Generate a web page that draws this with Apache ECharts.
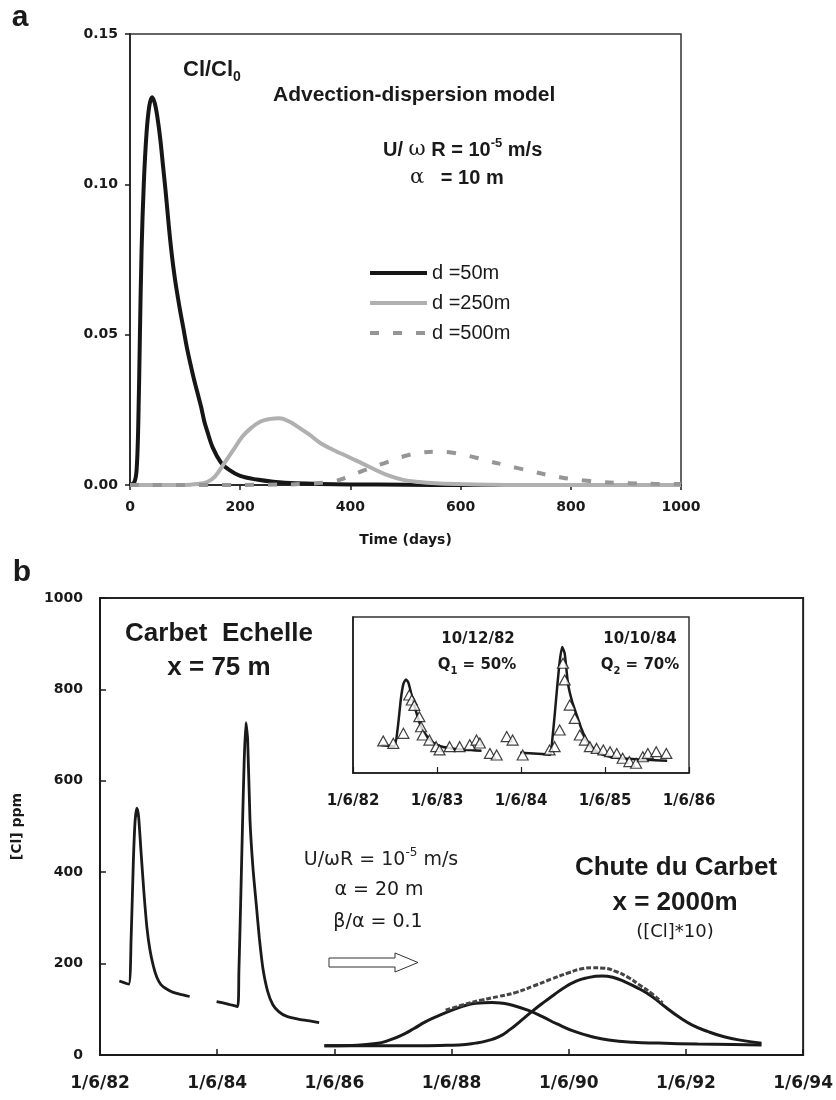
<!DOCTYPE html>
<html>
<head>
<meta charset="utf-8">
<script src="https://cdn.jsdelivr.net/npm/echarts@6/dist/echarts.min.js"></script>
<style>
  html, body { margin: 0; padding: 0; background: #fff; }
  #main { width: 836px; height: 1100px; }
</style>
</head>
<body>
<div id="main"></div>
<script>
// ---- panel a : advection-dispersion model, Cl/Cl0 vs time (days)
var aTicks = ['0', '200', '400', '600', '800', '1000']
var aNames = ['d =50m', 'd =250m', 'd =500m']
var d50 = [[0,0],[8,0.001],[12,0.005],[15,0.02],[18,0.05],[21,0.078],[25,0.1],[30,0.117],[35,0.126],[40,0.129],
  [45,0.127],[50,0.122],[55,0.115],[60,0.106],[65,0.097],[70,0.087],[75,0.078],[82,0.068],[90,0.059],[97,0.052],
  [104,0.045],[115,0.036],[122,0.031],[129,0.026],[135,0.021],[140,0.018],[150,0.0125],[165,0.0075],[180,0.005],
  [200,0.003],[230,0.0018],[260,0.0011],[300,0.0006],[400,0.0002],[500,0.0001],[600,0],[1000,0]]
var d250 = [[0,0],[100,0],[120,0.0003],[140,0.001],[154,0.0028],[171,0.0072],[187,0.0115],[204,0.0161],[220,0.019],
  [237,0.0211],[255,0.022],[271,0.0222],[288,0.0212],[304,0.0194],[325,0.0168],[346,0.0139],[371,0.0115],[396,0.0094],
  [421,0.0072],[446,0.005],[471,0.003],[496,0.0017],[525,0.001],[554,0.0006],[600,0.0003],[650,0.0001],[700,0],[1000,0]]
var d500 = [[0,0],[150,0],[250,0.0001],[320,0.0004],[371,0.0013],[400,0.003],[421,0.0046],[440,0.0059],[462,0.0073],
  [485,0.0088],[504,0.0099],[530,0.0108],[554,0.0111],[580,0.0109],[604,0.0101],[630,0.009],[654,0.0078],[680,0.0067],
  [704,0.0056],[730,0.0045],[754,0.0035],[780,0.0026],[804,0.0019],[830,0.0014],[854,0.001],[880,0.0007],
  [904,0.0006],[950,0.0004],[1000,0.0003]]

// ---- panel b : [Cl] ppm, x = year (82 means 1/6/82)
var bTicks = ['1/6/82', '1/6/84', '1/6/86', '1/6/88', '1/6/90', '1/6/92', '1/6/94']
var insetTicks = ['1/6/82', '1/6/83', '1/6/84', '1/6/85', '1/6/86']
// Carbet Echelle, x = 75 m (model)
var echelle82 = [[82.33,162],[82.49,155],[82.53,250],[82.57,427],[82.6,514],[82.63,540],[82.66,520],[82.7,445],
  [82.75,355],[82.8,280],[82.85,232],[82.91,195],[82.97,170],[83.04,154],[83.13,145],[83.25,137],[83.4,132],[83.53,128]]
var echelle84 = [[83.99,117],[84.2,111],[84.35,106],[84.37,180],[84.4,330],[84.43,492],[84.46,640],[84.49,727],
  [84.52,690],[84.56,514],[84.61,410],[84.67,325],[84.72,255],[84.78,190],[84.86,140],[84.95,110],[85.05,95],
  [85.18,85],[85.4,78],[85.6,74],[85.74,71]]
// Chute du Carbet, x = 2000 m ([Cl]*10)
var chute1 = [[85.83,20],[86.3,21],[86.71,25],[86.95,33],[87.16,44],[87.36,58],[87.56,73],[87.8,87],[88.01,98],
  [88.2,107],[88.41,113],[88.69,115],[88.88,113],[89.04,109],[89.3,98],[89.55,84],[89.8,68],[90.11,51],[90.4,40],
  [90.68,33],[91.1,28],[91.53,26],[92.2,24],[92.8,23],[93.29,22]]
var chute2 = [[85.83,20],[86.5,20],[87.2,20],[87.8,21],[88.13,22],[88.41,26],[88.6,31],[88.81,40],[89.0,56],[89.2,77],
  [89.38,96],[89.55,113],[89.75,132],[89.94,149],[90.1,160],[90.28,168],[90.57,173],[90.75,170],[90.96,160],
  [91.2,145],[91.42,128],[91.65,105],[91.87,84],[92.1,66],[92.38,51],[92.65,40],[92.95,32],[93.29,26]]
var chuteSum = [[87.9,98],[88.2,110],[88.5,120],[88.8,128],[89.1,137],[89.4,151],[89.7,166],[90.0,180],[90.2,188],
  [90.4,191],[90.6,190],[90.8,183],[91.0,171],[91.2,154],[91.42,134],[91.6,114]]
// inset: measured values (triangles)
var observed = [[82.36,185],[82.48,171],[82.6,229],[82.67,450],[82.7,421],[82.73,390],[82.79,325],[82.81,267],
  [82.83,219],[82.91,190],[82.99,152],[83.03,133],[83.15,152],[83.27,152],[83.39,163],[83.47,190],[83.51,173],
  [83.63,113],[83.71,104],[83.83,210],[83.9,190],[84.02,104],[84.34,133],[84.4,152],[84.46,248],[84.5,633],
  [84.52,537],[84.58,392],[84.64,315],[84.7,219],[84.76,190],[84.82,152],[84.9,142],[84.98,133],[85.06,123],
  [85.14,113],[85.21,85],[85.29,66],[85.37,56],[85.45,94],[85.51,113],[85.61,123],[85.73,113]]

var INK = '#1a1a1a'
var TICKFONT = 'DejaVu Sans'
var SANS = 'Liberation Sans'

function txt(x, y, text, size, weight, family, align, rich) {
  return {
    type: 'text', x: x, y: y, z: 10,
    style: {
      text: text, fontSize: size, fontWeight: weight, fontFamily: family,
      fill: INK, align: align || 'left', verticalAlign: 'middle', rich: rich
    }
  }
}

var chart = echarts.init(document.getElementById('main'), null, { renderer: 'canvas' })

var tickLabel = { fontFamily: TICKFONT, fontWeight: 'bold', fontSize: 14, color: INK }

var option = {
  animation: false,
  backgroundColor: '#fff',
  grid: [
    { left: 130, top: 34, width: 551, height: 451, show: true, borderColor: '#333', borderWidth: 1.5 },
    { left: 100, top: 598, width: 704, height: 457, show: true, borderColor: '#222', borderWidth: 2 },
    { left: 353, top: 617, width: 336, height: 156, show: true, borderColor: '#333', borderWidth: 1.5, backgroundColor: '#fff' }
  ],
  legend: {
    data: aNames,
    orient: 'vertical',
    left: 363, top: 258,
    itemWidth: 57, itemHeight: 14, itemGap: 10,
    itemStyle: { opacity: 0 },
    lineStyle: { width: 4 },
    textStyle: { fontFamily: SANS, fontSize: 20, color: INK, lineHeight: 20 }
  },
  xAxis: [
    {
      type: 'value', gridIndex: 0, min: 0, max: 1000, interval: 200,
      axisLine: { lineStyle: { color: INK, width: 1.5 } },
      axisTick: { inside: false, length: 5, lineStyle: { color: INK, width: 1.5 } },
      axisLabel: Object.assign({ margin: 15, formatter: function (v) { return aTicks[v / 200] } }, tickLabel),
      splitLine: { show: false },
      name: 'Time (days)', nameLocation: 'middle', nameGap: 48,
      nameTextStyle: { fontFamily: TICKFONT, fontWeight: 'bold', fontSize: 14, color: INK }
    },
    {
      type: 'value', gridIndex: 1, min: 82, max: 94, interval: 2,
      axisLine: { lineStyle: { color: INK, width: 2 } },
      axisTick: { inside: true, length: 6, lineStyle: { color: INK, width: 1.5 } },
      axisLabel: Object.assign({}, tickLabel, { fontSize: 17, margin: 20, formatter: function (v) { return bTicks[(v - 82) / 2] } }),
      splitLine: { show: false }
    },
    {
      type: 'value', gridIndex: 2, min: 82, max: 86, interval: 1,
      axisLine: { lineStyle: { color: INK, width: 1.5 } },
      axisTick: { inside: true, length: 6, lineStyle: { color: INK, width: 1.2 } },
      axisLabel: Object.assign({}, tickLabel, { fontSize: 15, margin: 21, formatter: function (v) { return insetTicks[v - 82] } }),
      splitLine: { show: false }
    }
  ],
  yAxis: [
    {
      type: 'value', gridIndex: 0, min: 0, max: 0.15, interval: 0.05,
      axisLine: { show: true, lineStyle: { color: INK, width: 1.5 } },
      axisTick: { show: true, inside: false, length: 5, lineStyle: { color: INK, width: 1.5 } },
      axisLabel: Object.assign({ margin: 12, formatter: function (v) { return v.toFixed(2) } }, tickLabel),
      splitLine: { show: false }
    },
    {
      type: 'value', gridIndex: 1, min: 0, max: 1000, interval: 200,
      axisLine: { show: true, lineStyle: { color: INK, width: 2 } },
      axisTick: { show: true, inside: true, length: 6, lineStyle: { color: INK, width: 1.5 } },
      axisLabel: Object.assign({ margin: 17, formatter: function (v) { return String(v) } }, tickLabel),
      splitLine: { show: false },
      name: '[Cl] ppm', nameLocation: 'middle', nameGap: 76, nameRotate: 90,
      nameTextStyle: { fontFamily: TICKFONT, fontWeight: 'bold', fontSize: 14, color: INK }
    },
    {
      type: 'value', gridIndex: 2, min: 0, max: 900,
      axisLine: { show: true, lineStyle: { color: INK, width: 1.5 } },
      axisTick: { show: false }, axisLabel: { show: false },
      splitLine: { show: false }
    }
  ],
  series: [
    { name: aNames[0], type: 'line', xAxisIndex: 0, yAxisIndex: 0, data: d50, symbol: 'none',
      smooth: 0.35, lineStyle: { color: '#161616', width: 4 }, itemStyle: { color: '#161616' } },
    { name: aNames[1], type: 'line', xAxisIndex: 0, yAxisIndex: 0, data: d250, symbol: 'none',
      smooth: 0.4, lineStyle: { color: '#b0b0b0', width: 4 }, itemStyle: { color: '#b0b0b0' } },
    { name: aNames[2], type: 'line', xAxisIndex: 0, yAxisIndex: 0, data: d500, symbol: 'none',
      smooth: 0.4, lineStyle: { color: '#969696', width: 4, type: [9, 14] }, itemStyle: { color: '#969696' } },

    { name: 'echelle82', type: 'line', xAxisIndex: 1, yAxisIndex: 1, data: echelle82, symbol: 'none',
      smooth: 0.2, lineStyle: { color: INK, width: 2.8 } },
    { name: 'echelle84', type: 'line', xAxisIndex: 1, yAxisIndex: 1, data: echelle84, symbol: 'none',
      smooth: 0.2, lineStyle: { color: INK, width: 2.8 } },
    { name: 'chute1', type: 'line', xAxisIndex: 1, yAxisIndex: 1, data: chute1, symbol: 'none',
      smooth: 0.5, lineStyle: { color: INK, width: 3 } },
    { name: 'chute2', type: 'line', xAxisIndex: 1, yAxisIndex: 1, data: chute2, symbol: 'none',
      smooth: 0.5, lineStyle: { color: INK, width: 3 } },
    { name: 'chuteSum', type: 'line', xAxisIndex: 1, yAxisIndex: 1, data: chuteSum, symbol: 'none',
      smooth: 0.5, lineStyle: { color: '#444', width: 3, type: [5, 2] } },

    { name: 'inset82', type: 'line', xAxisIndex: 2, yAxisIndex: 2, data: echelle82, symbol: 'none',
      smooth: 0.2, lineStyle: { color: INK, width: 2.5 } },
    { name: 'inset84', type: 'line', xAxisIndex: 2, yAxisIndex: 2, data: echelle84, symbol: 'none',
      smooth: 0.2, lineStyle: { color: INK, width: 2.5 } },
    { name: 'observed', type: 'scatter', xAxisIndex: 2, yAxisIndex: 2, data: observed, z: 4,
      symbol: 'triangle', symbolSize: [11, 10],
      itemStyle: { color: '#fff', borderColor: '#111', borderWidth: 1.2 } }
  ],
  graphic: [
    txt(20, 18, 'a', 30, 'bold', SANS, 'center'),
    txt(183, 70, '{m|Cl/Cl}{s|0}', 22, 'bold', SANS, 'left', {
      m: { fontSize: 22, fontWeight: 'bold', fontFamily: SANS, fill: INK, lineHeight: 28, verticalAlign: 'middle' },
      s: { fontSize: 14, fontWeight: 'bold', fontFamily: SANS, fill: INK, lineHeight: 28, verticalAlign: 'bottom' }
    }),
    txt(273, 95, 'Advection-dispersion model', 21, 'bold', SANS),
    txt(383, 150, '{m|U/ }{w|ω}{m| R = 10}{p|-5}{m| m/s}', 20, 'bold', SANS, 'left', {
      m: { fontSize: 20, fontWeight: 'bold', fontFamily: SANS, fill: INK, lineHeight: 26, verticalAlign: 'middle' },
      w: { fontSize: 21, fontWeight: 'normal', fontFamily: 'DejaVu Serif', fill: INK, lineHeight: 26, verticalAlign: 'middle' },
      p: { fontSize: 13, fontWeight: 'bold', fontFamily: SANS, fill: INK, lineHeight: 26, verticalAlign: 'top' }
    }),
    txt(410, 178, '{w|α}{m|   = 10 m}', 20, 'bold', SANS, 'left', {
      m: { fontSize: 20, fontWeight: 'bold', fontFamily: SANS, fill: INK, verticalAlign: 'middle' },
      w: { fontSize: 21, fontWeight: 'normal', fontFamily: 'DejaVu Serif', fill: INK, verticalAlign: 'middle' }
    }),

    txt(22, 573, 'b', 30, 'bold', SANS, 'center'),
    txt(219, 634, 'Carbet  Echelle', 26, 'bold', SANS, 'center'),
    txt(219, 668, 'x = 75 m', 26, 'bold', SANS, 'center'),
    txt(478, 639, '10/12/82', 15, 'bold', TICKFONT, 'center'),
    txt(477, 665, '{m|Q}{s|1}{m| = 50%}', 15, 'bold', TICKFONT, 'center', {
      m: { fontSize: 15, fontWeight: 'bold', fontFamily: TICKFONT, fill: INK, lineHeight: 22, verticalAlign: 'middle' },
      s: { fontSize: 10, fontWeight: 'bold', fontFamily: TICKFONT, fill: INK, lineHeight: 22, verticalAlign: 'bottom' }
    }),
    txt(640, 639, '10/10/84', 15, 'bold', TICKFONT, 'center'),
    txt(640, 665, '{m|Q}{s|2}{m| = 70%}', 15, 'bold', TICKFONT, 'center', {
      m: { fontSize: 15, fontWeight: 'bold', fontFamily: TICKFONT, fill: INK, lineHeight: 22, verticalAlign: 'middle' },
      s: { fontSize: 10, fontWeight: 'bold', fontFamily: TICKFONT, fill: INK, lineHeight: 22, verticalAlign: 'bottom' }
    }),
    txt(381, 860, '{m|U/ωR = 10}{p|-5}{m| m/s}', 19, 'normal', TICKFONT, 'center', {
      m: { fontSize: 19, fontFamily: TICKFONT, fill: '#222', lineHeight: 26, verticalAlign: 'middle' },
      p: { fontSize: 12, fontFamily: TICKFONT, fill: '#222', lineHeight: 26, verticalAlign: 'top' }
    }),
    txt(379, 890, 'α = 20 m', 19, 'normal', TICKFONT, 'center'),
    txt(378, 922, 'β/α = 0.1', 19, 'normal', TICKFONT, 'center'),
    txt(676, 868, 'Chute du Carbet', 26, 'bold', SANS, 'center'),
    txt(675, 903, 'x = 2000m', 26, 'bold', SANS, 'center'),
    txt(675, 932, '([Cl]*10)', 18, 'normal', TICKFONT, 'center'),
    {
      type: 'polygon', z: 10,
      shape: { points: [[329, 958], [395, 958], [395, 953], [418, 962.5], [395, 972], [395, 967], [329, 967]] },
      style: { fill: '#fff', stroke: '#333', lineWidth: 1 }
    }
  ]
}

chart.setOption(option)
</script>
</body>
</html>
